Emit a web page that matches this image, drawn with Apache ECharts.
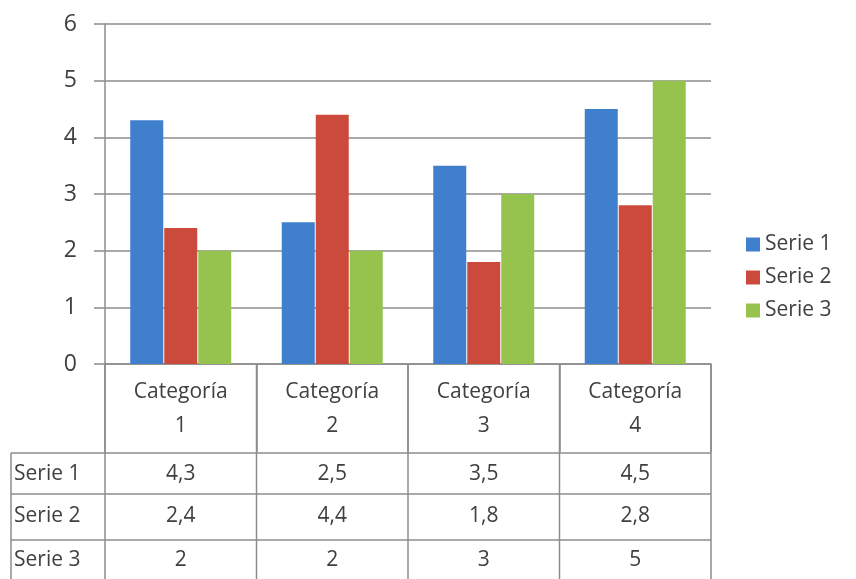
<!DOCTYPE html>
<html><head><meta charset="utf-8">
<script src="https://cdn.jsdelivr.net/npm/echarts@6/dist/echarts.min.js"></script>
<style>html,body{margin:0;padding:0;background:#fff}#c{width:856px;height:579px}</style>
</head><body><div id="c"></div>
<script>
const categories = ['Categoría 1', 'Categoría 2', 'Categoría 3', 'Categoría 4'];
const seriesNames = ['Serie 1', 'Serie 2', 'Serie 3'];
const serie1 = [4.3, 2.5, 3.5, 4.5];
const serie2 = [2.4, 4.4, 1.8, 2.8];
const serie3 = [2, 2, 3, 5];
const seriesValues = [serie1, serie2, serie3];
const colors = ['#3F7FCC', '#CC4A3C', '#96C24E'];
const yMin = 0, yMax = 6, yStep = 1;

const FONT = '"Open Sans"';
const TXT = '#404040';
const LINE = '#8c8c8c';

const chart = echarts.init(document.getElementById('c'));
const gridL = 105, gridR = 711, gridT = 24, gridB = 364;

const option = {
  animation: false,
  backgroundColor: '#fff',
  grid: { left: gridL, right: 856 - gridR, top: gridT, bottom: 579 - gridB },
  legend: {
    orient: 'vertical', left: 741, top: 229, itemWidth: 14, itemHeight: 14, itemGap: 12,
    icon: 'rect',
    textStyle: { fontFamily: FONT, fontSize: 21, color: TXT, padding: [0, 0, 0, 0] },
    data: seriesNames
  },
  xAxis: {
    type: 'category', data: categories,
    axisLine: { show: true, lineStyle: { color: LINE, width: 1.5 } },
    axisTick: { show: true, inside: false, length: 88, alignWithLabel: false, lineStyle: { color: LINE, width: 1.5 } },
    axisLabel: {
      margin: 11, fontFamily: FONT, fontSize: 21, color: TXT, lineHeight: 34,
      formatter: v => v.replace(' ', '\n')
    },
    splitLine: { show: false }
  },
  yAxis: {
    type: 'value', min: yMin, max: yMax, interval: yStep,
    axisLine: { show: true, lineStyle: { color: LINE, width: 1.5 } },
    axisTick: { show: true, length: 11, lineStyle: { color: LINE, width: 1.5 } },
    axisLabel: { margin: 28, fontFamily: FONT, fontSize: 23, color: TXT },
    splitLine: { show: true, lineStyle: { color: LINE, width: 1.5 } }
  },
  series: seriesNames.map((n, i) => ({
    name: n, type: 'bar', data: seriesValues[i], barWidth: 33, barGap: '3%',
    itemStyle: { color: colors[i] }
  })),
  graphic: []
};
chart.setOption(option);

// table below the chart
const rowLines = [453, 494, 540];
const bottomY = 579;
const g = [];
const line = (x1, y1, x2, y2) => g.push({ type: 'line', shape: { x1, y1, x2, y2 }, style: { stroke: LINE, lineWidth: 1.5 }, silent: true });
const colX = categories.map(c => chart.convertToPixel({ xAxisIndex: 0 }, c));
const bw = (gridR - gridL) / categories.length;
const bounds = [gridL].concat(categories.map((c, i) => gridL + bw * (i + 1)));
rowLines.forEach(y => line(11, y, gridR, y));
line(11, rowLines[0], 11, bottomY);
line(gridL, gridB, gridL, bottomY);
bounds.slice(1).forEach(x => line(x, gridB, x, bottomY));
const fmt = v => String(v).replace('.', ',');
const rowCenters = [474, 516, 560];
seriesNames.forEach((n, r) => {
  g.push({ type: 'text', x: 14, y: rowCenters[r], style: { text: n, font: '21px ' + FONT, fill: TXT, textAlign: 'left', textVerticalAlign: 'middle' } });
  seriesValues[r].forEach((v, ci) => {
    g.push({ type: 'text', x: colX[ci], y: rowCenters[r], style: { text: fmt(v), font: '21px ' + FONT, fill: TXT, textAlign: 'center', textVerticalAlign: 'middle' } });
  });
});
chart.setOption({ graphic: g });
</script></body></html>
